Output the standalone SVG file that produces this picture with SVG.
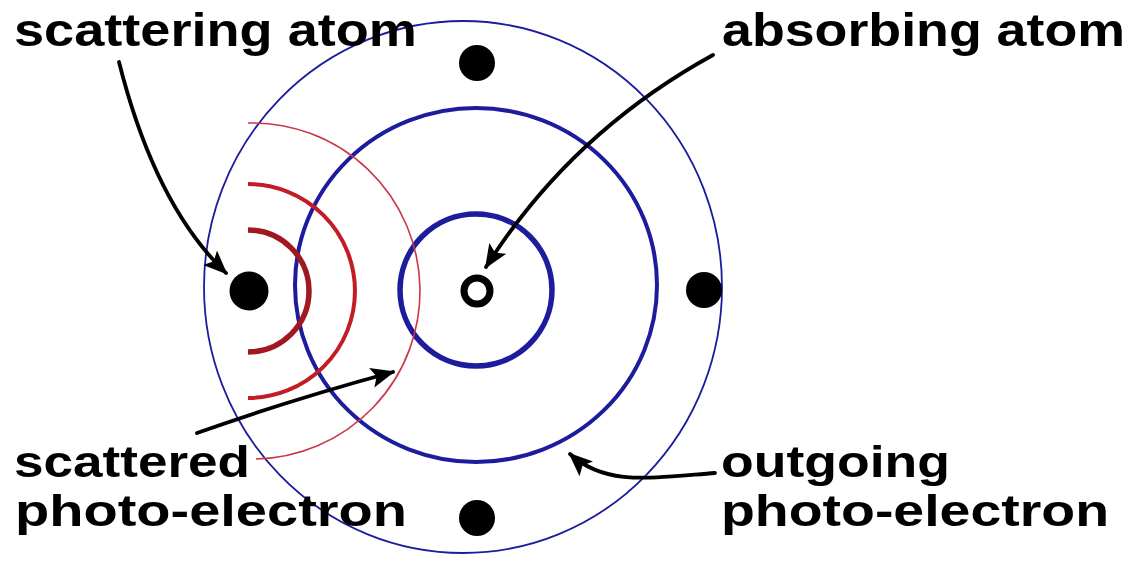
<svg xmlns="http://www.w3.org/2000/svg" width="1133" height="564" viewBox="0 0 1133 564">
<style>
.lbl{font-family:"Liberation Sans",Arial,sans-serif;font-weight:bold;font-size:47px;fill:#000}
.lbl2{font-family:"Liberation Sans",Arial,sans-serif;font-weight:bold;font-size:44px;fill:#000}
.blue{fill:none;stroke:#1c1c9c}
.red{fill:none}
.dot{fill:#000}
.arrow{fill:none;stroke:#000;stroke-width:3.8;stroke-linecap:round;marker-end:url(#ah)}
</style>
<defs>
<marker id="ah" markerUnits="userSpaceOnUse" markerWidth="28" markerHeight="24" refX="22" refY="10" orient="auto">
<path d="M0,0 L24,10 L0,20 L5,10 Z" fill="#000"/>
</marker>
</defs>
<rect width="1133" height="564" fill="#fff"/>
<g id="waves">
<ellipse id="outer-wave" class="blue" cx="463" cy="287" rx="259" ry="266" stroke-width="1.8"/>
<ellipse id="middle-wave" class="blue" cx="476" cy="285" rx="181" ry="177" stroke-width="4"/>
<circle id="inner-wave" class="blue" cx="476" cy="290" r="76" stroke-width="5.5"/>
<path id="red-outer" class="red" d="M248,123 A168,168 0 0 1 256,459" stroke="#c83848" stroke-width="1.6"/>
<path id="red-middle" class="red" d="M248,184 A107,107 0 0 1 248,398" stroke="#c41c24" stroke-width="4"/>
<path id="red-inner" class="red" d="M248,230 A61,61 0 0 1 248,352" stroke="#a01820" stroke-width="5.5"/>
</g>
<g id="atom-top"><circle class="dot" cx="477" cy="63" r="18"/></g>
<g id="atom-scattering"><circle class="dot" cx="249" cy="291" r="19.5"/></g>
<g id="atom-right"><circle class="dot" cx="704" cy="290" r="18"/></g>
<g id="atom-bottom"><circle class="dot" cx="477" cy="518" r="18"/></g>
<g id="atom-absorbing"><circle cx="477" cy="291" r="13" fill="none" stroke="#000" stroke-width="7"/></g>
<g id="connectors">
<path class="arrow" d="M119,62 Q155,205 226,273"/>
<path class="arrow" d="M713,55 Q571,133 486,267"/>
<path class="arrow" d="M197,433 Q290,400 393,372"/>
<path class="arrow" d="M715,473 C650,478 605,486 570,454"/>
</g>
<g id="label-scattering-atom"><text class="lbl" x="14" y="46" textLength="403" lengthAdjust="spacingAndGlyphs">scattering atom</text></g>
<g id="label-absorbing-atom"><text class="lbl" x="722" y="46" textLength="403" lengthAdjust="spacingAndGlyphs">absorbing atom</text></g>
<g id="label-scattered"><text class="lbl2" x="14" y="477" textLength="236" lengthAdjust="spacingAndGlyphs">scattered</text><text class="lbl2" x="15" y="526" textLength="392" lengthAdjust="spacingAndGlyphs">photo-electron</text></g>
<g id="label-outgoing"><text class="lbl2" x="721" y="477" textLength="229" lengthAdjust="spacingAndGlyphs">outgoing</text><text class="lbl2" x="721" y="526" textLength="388" lengthAdjust="spacingAndGlyphs">photo-electron</text></g>
</svg>
